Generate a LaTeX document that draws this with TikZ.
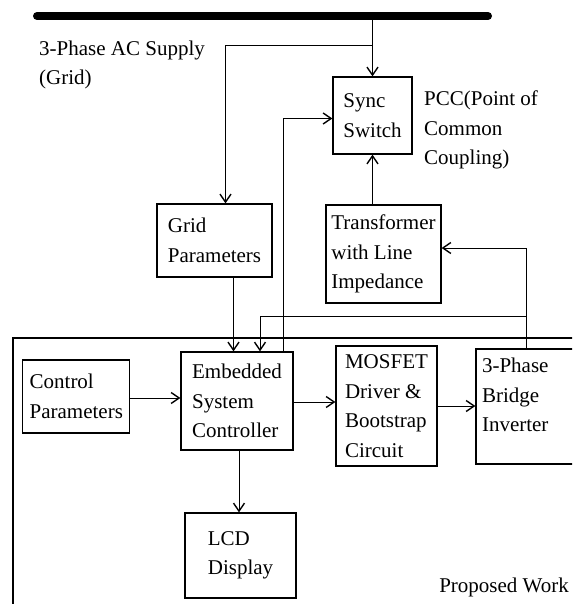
\documentclass[tikz,border=0pt]{standalone}
\usepackage{fontspec}
\setmainfont{Liberation Serif}
\usetikzlibrary{arrows.meta}

\tikzset{
  blk/.style={draw,line width=1.3pt,align=left,inner sep=0pt,font=\fontsize{21}{29.5}\selectfont},
  lbl/.style={align=left,inner sep=0pt,font=\fontsize{21}{29.5}\selectfont},
  wire/.style={line width=1pt},
  conn/.style={wire,-{Straight Barb[length=8pt,width=11pt,line width=1.4pt]}}
}

\begin{document}
\begin{tikzpicture}[x=1pt,y=-1pt]
\clip (0,0) rectangle (572,604);

% grid bus
\coordinate (busL) at (37,16);
\coordinate (busR) at (488,16);
\draw[line width=8pt,line cap=round] (busL) -- (busR);
\node[lbl,anchor=west] (supply) at (39,65) {3-Phase AC Supply\\(Grid)};

% blocks
\node[blk,minimum width=79pt,minimum height=77pt] (sync) at (372.5,115.5) {Sync\\Switch};
\node[lbl,anchor=west] (pcc) at (424,130) {PCC(Point of\\Common\\Coupling)};
\node[blk,minimum width=115pt,minimum height=73pt] (grid) at (214.5,240.5) {Grid\\Parameters};
\node[blk,minimum width=115pt,minimum height=98pt] (trafo) at (383.5,254) {Transformer\\with Line\\Impedance};

% proposed work frame
\draw[line width=1.2pt] (13,338) rectangle (620,650);
\node[lbl,anchor=east] (work) at (569,587) {Proposed Work};

\node[blk,minimum width=107pt,minimum height=73pt] (ctrl) at (76.3,396.5) {Control\\Parameters};
\node[blk,minimum width=112pt,minimum height=98pt] (esc) at (237,401) {Embedded\\System\\Controller};
\node[blk,minimum width=101pt,minimum height=120pt] (drv) at (386.5,406) {MOSFET\\Driver \&\\Bootstrap\\Circuit};
\node[blk,minimum width=124pt,minimum height=115pt,text width=112pt] (inv) at (538,406.5) {3-Phase\\Bridge\\Inverter\\[-6pt]\mbox{}};
\node[blk,minimum width=111pt,minimum height=85pt] (lcd) at (240.5,555.5) {LCD\\Display};

% connections
\coordinate (tap) at (372.5,46);
\coordinate (fb) at (526,316);
\draw[conn] (sync.north |- busL) -- (sync.north);
\draw[conn] (tap) -| ([xshift=11pt]grid.north);
\draw[conn] ([xshift=19pt]grid.south) -- ([xshift=19pt]grid.south |- esc.north);
\draw[conn] ([xshift=46pt]esc.north) |- ([yshift=-3pt]sync.west);
\draw[conn] (trafo.north -| sync.south) -- (sync.south);
\draw[conn] ([xshift=-12pt]inv.north) |- ([yshift=6pt]trafo.east);
\draw[conn] (fb) -| ([xshift=23pt]esc.north);
\draw[conn] ([yshift=-1.5pt]ctrl.east) -- ([yshift=-1.5pt]ctrl.east -| esc.west);
\draw[conn] ([yshift=-1pt]esc.east) -- ([yshift=-1pt]esc.east -| drv.west);
\draw[conn] (drv.east) -- (drv.east -| inv.west);
\draw[conn] ([xshift=2pt]esc.south) -- ([xshift=2pt]esc.south |- lcd.north);
\end{tikzpicture}
\end{document}
